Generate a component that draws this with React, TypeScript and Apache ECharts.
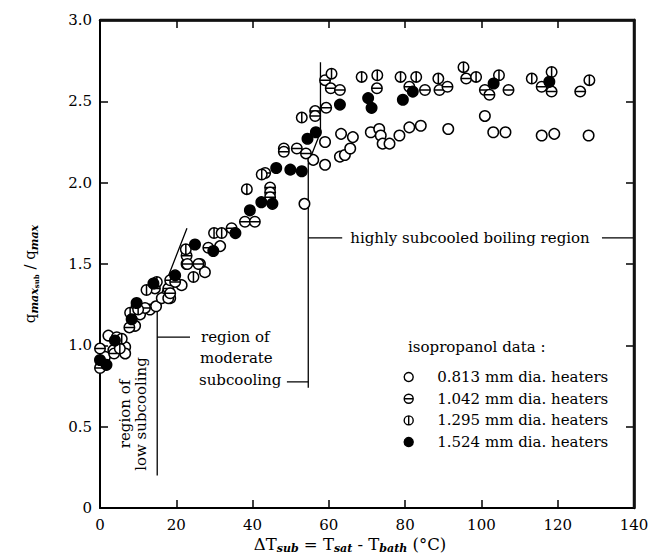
import React, { useEffect, useRef } from "react";
import * as echarts from "echarts";

// ---- axis ticks ----
const xTicks = [0, 20, 40, 60, 80, 100, 120, 140];
const yTicks = [0, 0.5, 1.0, 1.5, 2.0, 2.5, 3.0];

// ---- series names ----
const seriesNames = [
  "0.813 mm dia. heaters",
  "1.042 mm dia. heaters",
  "1.295 mm dia. heaters",
  "1.524 mm dia. heaters",
];

// ---- data: [ΔTsub (°C), qmax,sub / qmax] ----
const d0813: [number, number][] = [
  [0.3, 0.87], [1.3, 0.93], [2.2, 1.06], [3.5, 0.97], [6.6, 0.99], [6.6, 0.95],
  [9.2, 1.12], [10.5, 1.19], [13.1, 1.22], [14.7, 1.24], [16.2, 1.29], [18.4, 1.29],
  [17.9, 1.29], [21.4, 1.37], [22.7, 1.50], [26.2, 1.50], [27.5, 1.45], [31.5, 1.61],
  [53.6, 1.87], [55.9, 2.14], [59.0, 2.11], [59.0, 2.25], [62.9, 2.16], [64.2, 2.17],
  [65.6, 2.21], [63.2, 2.30], [66.3, 2.28], [71.0, 2.31], [73.2, 2.33], [73.6, 2.29],
  [74.1, 2.24], [75.9, 2.24], [78.5, 2.29], [81.1, 2.34], [84.1, 2.35], [91.3, 2.33],
  [100.9, 2.41], [103.1, 2.31], [106.3, 2.31], [115.8, 2.29], [119.1, 2.30], [128.1, 2.29],
];

const d1042: [number, number][] = [
  [0, 0.86], [0, 0.98], [3.7, 0.95], [4.4, 1.05], [4.8, 1.02], [7.7, 1.11],
  [9.6, 1.24], [11.8, 1.23], [14.4, 1.35], [17.9, 1.35], [18.4, 1.32], [18.4, 1.40],
  [19.7, 1.39], [22.7, 1.55], [22.9, 1.50], [25.8, 1.50], [28.4, 1.60], [34.5, 1.72],
  [38.0, 1.76], [40.6, 1.76], [44.6, 1.97], [44.6, 1.94], [44.6, 1.91], [43.3, 2.06],
  [48.2, 2.21], [48.2, 2.19], [51.6, 2.21], [54.0, 2.18], [56.4, 2.44], [56.4, 2.41],
  [59.3, 2.46], [59.0, 2.63], [60.5, 2.58], [62.9, 2.57], [72.6, 2.58], [81.1, 2.59],
  [85.2, 2.57], [89.0, 2.57], [91.1, 2.59], [96.0, 2.64], [100.9, 2.57], [102.1, 2.54],
  [107.1, 2.57], [115.8, 2.59], [118.4, 2.56], [125.9, 2.56],
];

const d1295: [number, number][] = [
  [5.2, 0.98], [5.7, 1.04], [7.9, 1.20], [10.0, 1.22], [12.2, 1.34], [14.9, 1.39],
  [22.5, 1.59], [24.5, 1.42], [29.9, 1.69], [31.9, 1.69], [38.5, 1.96], [42.4, 2.05],
  [52.9, 2.40], [60.7, 2.67], [68.6, 2.65], [72.7, 2.66], [78.8, 2.65], [82.9, 2.65],
  [88.7, 2.64], [95.3, 2.71], [98.6, 2.65], [104.6, 2.66], [113.2, 2.64], [118.4, 2.68],
  [128.3, 2.63],
];

const d1524: [number, number][] = [
  [0, 0.91], [1.7, 0.88], [3.9, 1.03], [8.3, 1.16], [9.6, 1.26], [14.0, 1.38],
  [19.7, 1.43], [24.9, 1.62], [29.7, 1.58], [35.5, 1.69], [39.3, 1.83], [42.3, 1.88],
  [45.2, 1.87], [46.2, 2.09], [49.9, 2.08], [52.9, 2.07], [54.4, 2.27], [56.6, 2.31],
  [62.9, 2.48], [70.3, 2.52], [71.2, 2.46], [79.4, 2.51], [82.0, 2.56], [103.2, 2.61],
  [117.8, 2.62],
];

// ---- region boundary annotation lines (data coordinates) ----
const lowBoundary: [number, number][] = [[15, 0.2], [15, 1.25], [22.8, 1.72]];
const moderateBoundary: [number, number][] = [[54.6, 0.74], [54.6, 2.12], [57.8, 2.31], [57.8, 2.74]];
const moderateLeftTick: [number, number][] = [[15, 1.05], [23.6, 1.05]];
const moderateRightTick: [number, number][] = [[49, 0.775], [54.6, 0.775]];
const highLeftTick: [number, number][] = [[54.6, 1.66], [63.5, 1.66]];
const highRightTick: [number, number][] = [[131.6, 1.66], [140, 1.66]];

const FONT = "DejaVu Serif";
const SYM_THETA = "path://M-1 0A1 1 0 1 1 1 0A1 1 0 1 1 -1 0ZM-1 0L1 0";
const SYM_PHI = "path://M-1 0A1 1 0 1 1 1 0A1 1 0 1 1 -1 0ZM0 -1L0 1";

const GRID = { left: 100, right: 14, top: 20, bottom: 49 };
const W = 648;
const H = 557;

export default function App() {
  const ref = useRef<HTMLDivElement>(null);

  useEffect(() => {
    const el = ref.current;
    if (!el) return;
    const chart = echarts.init(el, null, { renderer: "svg" });

    const annot = (name: string, data: [number, number][]) => ({
      type: "line",
      name,
      data,
      symbol: "none",
      silent: true,
      lineStyle: { color: "#000", width: 1.3 },
      z: 1,
    });

    const scat = (name: string, data: [number, number][], symbol: string, fill: string) => ({
      type: "scatter",
      name,
      data,
      symbol,
      symbolSize: 10.5,
      itemStyle: { color: fill, borderColor: "#000", borderWidth: 1.5, opacity: 1 },
      z: 3,
    });

    const mkLine = (w: number) => ({ show: true, onZero: false, lineStyle: { color: "#000", width: w } });
    const mkTick = () => ({ show: true, inside: true, length: 8, lineStyle: { color: "#000", width: 1.5 } });

    const plotW = W - GRID.left - GRID.right;
    const plotH = H - GRID.top - GRID.bottom;

    chart.setOption({
      animation: false,
      backgroundColor: "#fff",
      grid: { ...GRID, outerBoundsMode: "none" },
      xAxis: [
        {
          type: "value",
          position: "bottom",
          min: 0,
          max: xTicks[xTicks.length - 1],
          interval: 20,
          axisLine: mkLine(2),
          axisTick: mkTick(),
          splitLine: { show: false },
          axisLabel: {
            margin: 9,
            color: "#000",
            fontFamily: FONT,
            fontSize: 15,
            formatter: (v: number) => (xTicks.includes(v) ? String(v) : ""),
          },
        },
        {
          type: "value",
          position: "top",
          min: 0,
          max: xTicks[xTicks.length - 1],
          interval: 20,
          axisLine: mkLine(2.5),
          axisTick: mkTick(),
          splitLine: { show: false },
          axisLabel: { show: false },
        },
      ],
      yAxis: [
        {
          type: "value",
          position: "left",
          min: 0,
          max: yTicks[yTicks.length - 1],
          interval: 0.5,
          axisLine: mkLine(2),
          axisTick: mkTick(),
          splitLine: { show: false },
          axisLabel: {
            margin: 8,
            color: "#000",
            fontFamily: FONT,
            fontSize: 15,
            formatter: (v: number) => (v === 0 ? "0" : v.toFixed(1)),
          },
        },
        {
          type: "value",
          position: "right",
          min: 0,
          max: yTicks[yTicks.length - 1],
          interval: 0.5,
          axisLine: mkLine(2.5),
          axisTick: mkTick(),
          splitLine: { show: false },
          axisLabel: { show: false },
        },
      ],
      legend: {
        orient: "vertical",
        left: 398.5,
        top: 364.5,
        itemWidth: 9,
        itemHeight: 9,
        itemGap: 6.7,
        selectedMode: false,
        data: seriesNames,
        itemStyle: { borderColor: "#000", borderWidth: 1.4 },
        textStyle: {
          color: "#000",
          fontFamily: FONT,
          fontSize: 15,
          lineHeight: 15,
          padding: [0, 0, 0, 19],
        },
      },
      series: [
        annot("lowBoundary", lowBoundary),
        annot("moderateBoundary", moderateBoundary),
        annot("moderateLeftTick", moderateLeftTick),
        annot("moderateRightTick", moderateRightTick),
        annot("highLeftTick", highLeftTick),
        annot("highRightTick", highRightTick),
        scat(seriesNames[0], d0813, "circle", "#fff"),
        scat(seriesNames[1], d1042, SYM_THETA, "#fff"),
        scat(seriesNames[2], d1295, SYM_PHI, "#fff"),
        scat(seriesNames[3], d1524, "circle", "#000"),
      ],
      graphic: [
        {
          type: "polyline",
          z: 100,
          silent: true,
          shape: {
            points: [
              [GRID.left, GRID.top],
              [GRID.left + plotW, GRID.top],
              [GRID.left + plotW, GRID.top + plotH],
            ],
          },
          style: { fill: null, stroke: "#111", lineWidth: 2.5 },
        },
        {
          type: "text",
          x: 470,
          y: 238,
          style: { text: "highly subcooled boiling region", fontFamily: FONT, fontSize: 15, fill: "#000", align: "center", verticalAlign: "middle" },
        },
        {
          type: "text",
          x: 201,
          y: 337,
          style: { text: "region of", fontFamily: FONT, fontSize: 15, fill: "#000", align: "left", verticalAlign: "middle" },
        },
        {
          type: "text",
          x: 200,
          y: 358,
          style: { text: "moderate", fontFamily: FONT, fontSize: 15, fill: "#000", align: "left", verticalAlign: "middle" },
        },
        {
          type: "text",
          x: 199,
          y: 380,
          style: { text: "subcooling", fontFamily: FONT, fontSize: 15, fill: "#000", align: "left", verticalAlign: "middle" },
        },
        {
          type: "text",
          x: 125,
          y: 414,
          rotation: Math.PI / 2,
          style: { text: "region of", fontFamily: FONT, fontSize: 15, fill: "#000", align: "center", verticalAlign: "middle" },
        },
        {
          type: "text",
          x: 141,
          y: 414,
          rotation: Math.PI / 2,
          style: { text: "low subcooling", fontFamily: FONT, fontSize: 15, fill: "#000", align: "center", verticalAlign: "middle" },
        },
        {
          type: "text",
          x: 408,
          y: 347,
          style: { text: "isopropanol data :", fontFamily: FONT, fontSize: 15, fill: "#000", align: "left", verticalAlign: "middle" },
        },
        {
          type: "text",
          x: 350,
          y: 544,
          style: {
            text: "{n|ΔT}{s|sub}{n| = T}{s|sat}{n| - T}{s|bath}{n| (°C)}",
            align: "center",
            verticalAlign: "middle",
            fill: "#000",
            rich: {
              n: { fontFamily: FONT, fontSize: 16.5, lineHeight: 20, fill: "#000" },
              s: { fontFamily: FONT, fontSize: 11, fontStyle: "italic", fontWeight: "bold", lineHeight: 10, verticalAlign: "bottom", fill: "#000" },
            },
          },
        },
        {
          type: "text",
          x: 30,
          y: 274,
          rotation: Math.PI / 2,
          style: {
            text: "{q|q}{s|max}{ss|sub}{q| / q}{s|max}",
            align: "center",
            verticalAlign: "middle",
            fill: "#000",
            rich: {
              q: { fontFamily: FONT, fontSize: 15, lineHeight: 20, fill: "#000" },
              s: { fontFamily: FONT, fontSize: 11, fontStyle: "italic", fontWeight: "bold", lineHeight: 11, verticalAlign: "bottom", fill: "#000" },
              ss: { fontFamily: FONT, fontSize: 7, fontWeight: "bold", lineHeight: 7, verticalAlign: "bottom", fill: "#000" },
            },
          },
        },
      ],
    });

    return () => chart.dispose();
  }, []);

  return (
    <div
      ref={ref}
      style={{ position: "absolute", left: 0, top: 0, width: W, height: H, background: "#fff" }}
    />
  );
}
